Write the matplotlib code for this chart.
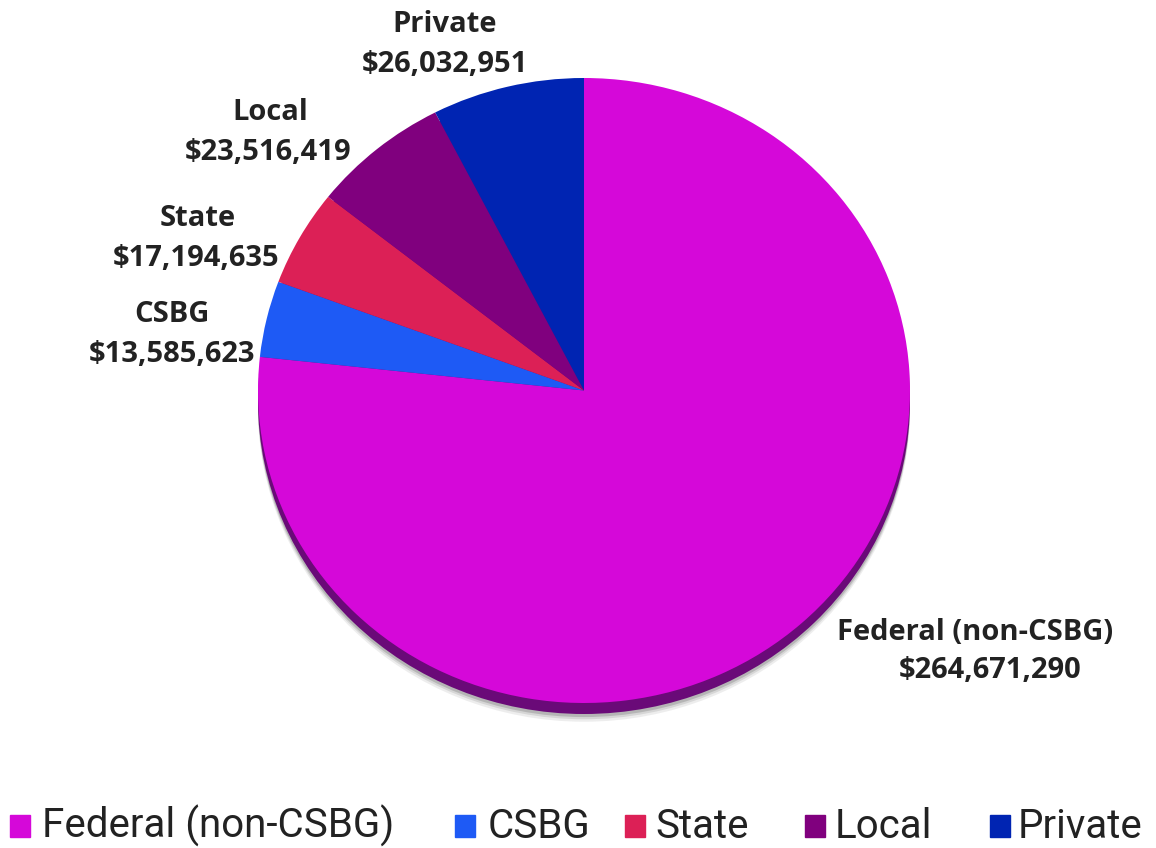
import matplotlib
matplotlib.use("Agg")
import matplotlib.pyplot as plt
from matplotlib.patches import Ellipse, Rectangle

# ---- data ----
labels = ["Federal (non-CSBG)", "CSBG", "State", "Local", "Private"]
values = [264671290, 13585623, 17194635, 23516419, 26032951]
colors = ["#d508d9", "#1e5af5", "#dc2056", "#80007e", "#0024b2"]

W, H = 1156, 848
fig = plt.figure(figsize=(W / 100, H / 100), dpi=100)
fig.patch.set_facecolor("white")


def fx(px):
    return px / W


def fy(py):
    return 1 - py / H


# pie axes (slightly taller than wide in data, placed by pixel box)
left, right, top, bottom = 258, 910, 78, 703
ax = fig.add_axes([fx(left), fy(bottom), (right - left) / W, (bottom - top) / H])

ry = (bottom - top) / 2.0
# soft shadow + dark rim under the pie
for off, a in [(0.060, 0.10), (0.052, 0.15), (0.045, 0.25)]:
    ax.add_patch(Ellipse((0, -off), 2.0, 2.0, color="#555555", alpha=a,
                         lw=0, zorder=0, clip_on=False))
ax.add_patch(Ellipse((0, -11 / ry), 2.0, 2.0, color="#6a0a78", lw=0,
                     zorder=1, clip_on=False))

wedges, _ = ax.pie(values, colors=colors, startangle=90, counterclock=False,
                   radius=1.0, center=(0, 0), frame=True,
                   wedgeprops=dict(linewidth=0))
for w in wedges:
    w.set_zorder(2)
    w.set_clip_on(False)
ax.set_xlim(-1, 1)
ax.set_ylim(-1, 1)
ax.set_aspect("auto")
ax.axis("off")

# ---- slice labels ----
lab_font = dict(family=["Open Sans", "DejaVu Sans"], fontweight="bold",
                fontsize=21, color="#222222", ha="center", va="center")
label_pos = {
    "Private": ((445, 25), (445, 65)),
    "Local": ((270, 112), (268, 152)),
    "State": ((198, 218), (196, 258)),
    "CSBG": ((172, 314), (172, 355)),
    "Federal (non-CSBG)": ((975, 633), (990, 670)),
}
for name, val in zip(labels, values):
    (x1, y1), (x2, y2) = label_pos[name]
    fig.text(fx(x1), fy(y1), name, **lab_font)
    fig.text(fx(x2), fy(y2), f"${val:,}", **lab_font)

# ---- legend ----
leg_sq_x = [10, 455, 625, 805, 990]
leg_txt_x = [42, 488, 655, 835, 1018]
for name, col, sx, tx in zip(labels, colors, leg_sq_x, leg_txt_x):
    fig.patches.append(Rectangle((fx(sx), fy(837)), 20 / W, 22 / H,
                                 transform=fig.transFigure, color=col,
                                 figure=fig))
    fig.text(fx(tx), fy(826), name, family=["Roboto", "DejaVu Sans"],
             fontsize=29, color="#222222", ha="left", va="center")

fig.savefig("out.png", dpi=100, facecolor="white")
